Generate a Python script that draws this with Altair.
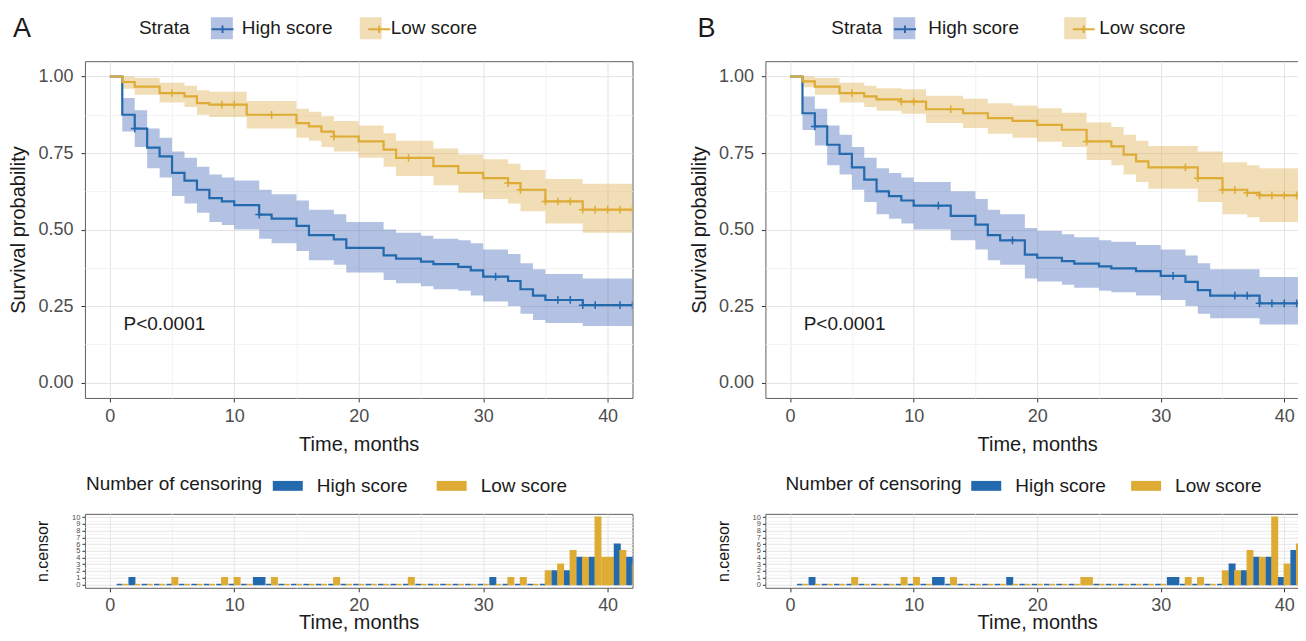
import altair as alt
import pandas as pd

FONT = "Liberation Sans"
BLUE = "#2369AD"
GOLD = "#DEAC35"
BLUE_BAND = "#4166B6"
GOLD_BAND = "#DCAC48"
TXT = "#1A1A1A"
X_MAX = 42
DODGE = 0.45
W_STRATA = 50.7      # width of "Strata" at 19px (Arial metrics)
W_HIGH = 90.8        # width of "High score" at 19px

# ---------------- Panel A : Kaplan-Meier steps ----------------
a_hi_time = [0, 1, 2, 3, 4, 5, 6, 7, 8, 9, 10, 12, 13, 15, 16, 18, 19, 22, 23, 25, 26, 28, 29, 30, 32, 33, 34, 35, 38]
a_hi_surv = [1.0, 0.875, 0.83, 0.768, 0.739, 0.685, 0.66, 0.63, 0.603, 0.592, 0.58, 0.549, 0.536, 0.512, 0.482,
             0.468, 0.44, 0.416, 0.405, 0.395, 0.387, 0.378, 0.367, 0.346, 0.332, 0.305, 0.284, 0.27, 0.253]
a_hi_lower = [1.0, 0.82, 0.77, 0.70, 0.67, 0.61, 0.585, 0.555, 0.525, 0.515, 0.50, 0.47, 0.455, 0.43, 0.40,
              0.385, 0.36, 0.335, 0.325, 0.315, 0.305, 0.30, 0.285, 0.265, 0.25, 0.225, 0.205, 0.195, 0.185]
a_hi_upper = [1.0, 0.93, 0.89, 0.83, 0.80, 0.755, 0.735, 0.705, 0.68, 0.67, 0.66, 0.63, 0.615, 0.595, 0.565,
              0.55, 0.525, 0.50, 0.49, 0.48, 0.47, 0.465, 0.455, 0.435, 0.42, 0.39, 0.37, 0.355, 0.34]

a_lo_time = [0, 1, 2, 4, 6, 7, 8, 11, 15, 16, 17, 18, 20, 22, 23, 26, 28, 30, 32, 33, 35, 38]
a_lo_surv = [1.0, 0.982, 0.967, 0.946, 0.935, 0.913, 0.908, 0.875, 0.848, 0.837, 0.82, 0.804, 0.788, 0.761,
             0.734, 0.707, 0.685, 0.668, 0.652, 0.63, 0.592, 0.565]
a_lo_lower = [1.0, 0.96, 0.94, 0.915, 0.90, 0.875, 0.868, 0.83, 0.80, 0.79, 0.77, 0.755, 0.735, 0.705,
              0.675, 0.645, 0.62, 0.60, 0.585, 0.56, 0.52, 0.49]
a_lo_upper = [1.0, 1.0, 0.995, 0.98, 0.97, 0.955, 0.95, 0.92, 0.895, 0.885, 0.87, 0.855, 0.84, 0.815,
              0.79, 0.765, 0.745, 0.73, 0.715, 0.695, 0.665, 0.65]

# ---------------- Panel B : Kaplan-Meier steps ----------------
b_hi_time = [0, 1, 2, 3, 4, 5, 6, 7, 8, 9, 10, 13, 15, 16, 17, 19, 20, 22, 23, 25, 26, 28, 30, 32, 33, 34, 38]
b_hi_surv = [1.0, 0.88, 0.837, 0.777, 0.747, 0.703, 0.663, 0.625, 0.609, 0.595, 0.578, 0.545, 0.516, 0.482,
             0.465, 0.418, 0.408, 0.397, 0.389, 0.38, 0.373, 0.364, 0.349, 0.329, 0.302, 0.284, 0.259]
b_hi_lower = [1.0, 0.825, 0.775, 0.71, 0.68, 0.63, 0.59, 0.55, 0.535, 0.52, 0.50, 0.465, 0.435, 0.40,
              0.385, 0.34, 0.33, 0.32, 0.31, 0.30, 0.295, 0.285, 0.27, 0.25, 0.225, 0.21, 0.19]
b_hi_upper = [1.0, 0.935, 0.895, 0.84, 0.81, 0.77, 0.735, 0.70, 0.685, 0.67, 0.655, 0.625, 0.60, 0.565,
              0.55, 0.505, 0.495, 0.485, 0.475, 0.465, 0.46, 0.45, 0.435, 0.415, 0.39, 0.37, 0.345]

b_lo_time = [0, 1, 2, 4, 6, 7, 9, 11, 14, 16, 18, 20, 22, 24, 26, 27, 28, 29, 33, 35, 37, 38]
b_lo_surv = [1.0, 0.984, 0.967, 0.946, 0.935, 0.925, 0.918, 0.893, 0.88, 0.864, 0.855, 0.842, 0.826, 0.788,
             0.772, 0.745, 0.723, 0.703, 0.668, 0.63, 0.62, 0.612]
b_lo_lower = [1.0, 0.965, 0.94, 0.915, 0.90, 0.888, 0.878, 0.848, 0.832, 0.813, 0.80, 0.787, 0.77, 0.727,
              0.71, 0.68, 0.655, 0.633, 0.59, 0.55, 0.54, 0.525]
b_lo_upper = [1.0, 1.0, 0.995, 0.98, 0.97, 0.962, 0.958, 0.937, 0.927, 0.913, 0.905, 0.896, 0.882, 0.85,
              0.835, 0.81, 0.79, 0.773, 0.755, 0.72, 0.71, 0.70]

# ---------------- Number of censoring (time 1..42; None = no row for that stratum) ----------------
censor_time = list(range(1, 43))
a_cens_high = [0, 1, 0, 0, 0, 0, 0, 0, 0, 0, 0, 1, 0, 0, 0, 0, 0, 0, 0, 0, 0, 0, 0, 0, 0, 0, 0, 0, 0, 0,
               1, 0, 0, 0, 0, 2, 2, 4, 4, None, 6, 4]
a_cens_low = [0, 0, 0, 0, 1, 0, 0, 0, 1, 1, 0, None, 1, 0, 0, 0, 0, 1, 0, 0, 0, 0, 0, 1, 0, 0, 0, 0, 0, 0,
              0, 1, 1, 0, 2, 3, 5, 4, 10, 4, 5, 3]
b_cens_high = [0, 1, 0, 0, 0, 0, 0, 0, 0, 0, 0, 1, 0, 0, 0, 0, 0, 1, 0, 0, 0, 0, 0, None, 0, 0, 0, 0, 0, 0,
               1, 0, 0, 0, 0, 3, 2, 4, 4, 1, 5, 3]
b_cens_low = [0, 0, 0, 0, 1, 0, 0, 0, 1, 1, 0, None, 1, 0, 0, 0, 0, 0, 0, 0, 0, 0, 0, 1, 0, 0, 0, 0, 0, 0,
              None, 1, 1, 0, 2, 2, 5, 4, 10, 3, 6, 3]

pval_label = "P<0.0001"
pval_time = 1.1
pval_surv = 0.19


def km_table(time, surv, lower, upper, group):
    return pd.DataFrame({
        "time": time + [X_MAX], "surv": surv + [surv[-1]],
        "lower": lower + [lower[-1]], "upper": upper + [upper[-1]],
        "strata": group, "band": group,
    })


def censor_marks(time, surv, counts, group):
    rows = []
    for t, n in zip(censor_time, counts):
        if n:
            idx = max(i for i, tt in enumerate(time) if tt <= t)
            rows.append({"time": t, "surv": surv[idx], "strata": group})
    return pd.DataFrame(rows)


def censor_table(high, low):
    rows = []
    for t, h, l in zip(censor_time, high, low):
        both = h is not None and l is not None
        for grp, n, side in (("High score", h, -1), ("Low score", l, 1)):
            if n is None:
                continue
            if both:
                x0, x1 = (t - DODGE, t) if side < 0 else (t, t + DODGE)
            else:
                x0, x1 = t - DODGE, t + DODGE
            rows.append({"time": t, "strata": grp, "n": n, "x0": x0, "x1": x1})
    return pd.DataFrame(rows)


def x_axis(title_y, baseline, label_pad):
    return alt.Axis(
        values=list(range(0, 41, 5)),
        labelExpr="datum.value % 10 === 0 ? datum.label : ''",
        tickOpacity={"condition": {"test": "datum.value % 10 !== 0", "value": 0}, "value": 1},
        gridColor={"condition": {"test": "datum.value % 10 !== 0", "value": "#F3F3F3"}, "value": "#E3E3E3"},
        title="Time, months", titleY=title_y, titleBaseline=baseline,
        labelPadding=label_pad, tickSize=4, labelFontSize=18, titleFontSize=20, labelOverlap=False,
    )


def y_axis_km():
    return alt.Axis(
        values=[i / 8 for i in range(9)],
        labelExpr="datum.value % 0.25 === 0 ? format(datum.value, '.2f') : ''",
        tickOpacity={"condition": {"test": "datum.value % 0.25 !== 0", "value": 0}, "value": 1},
        gridColor={"condition": {"test": "datum.value % 0.25 !== 0", "value": "#F3F3F3"}, "value": "#E3E3E3"},
        title="Survival probability", titleX=-66, titleBaseline="middle",
        labelPadding=8, tickSize=4, labelFontSize=18, titleFontSize=20, labelOverlap=False,
    )


def y_axis_cens():
    return alt.Axis(
        values=[i / 2 for i in range(21)],
        labelExpr="datum.value % 1 === 0 ? format(datum.value, 'd') : ''",
        tickOpacity={"condition": {"test": "datum.value % 1 !== 0", "value": 0}, "value": 1},
        gridColor={"condition": {"test": "datum.value % 1 !== 0", "value": "#F3F3F3"}, "value": "#E6E6E6"},
        title="n.censor", titleX=-42, titleBaseline="middle",
        labelPadding=2, tickSize=3, labelFontSize=7.5, titleFontSize=16, labelOverlap=False,
    )


def legend(title, x, y, symbol, size, title_pad, col_pad, label_off, opacity=1.0, sw=0.0, label_expr=None):
    kw = dict(
        title=title, orient="none", legendX=x, legendY=y, direction="horizontal",
        titleOrient="left", titleAnchor="middle", titleBaseline="middle", titlePadding=title_pad,
        symbolType=symbol, symbolSize=size, symbolOpacity=opacity, symbolStrokeWidth=sw,
        labelOffset=label_off, columnPadding=col_pad,
        labelFontSize=19, titleFontSize=19, titleFontWeight="normal",
        labelFont=FONT, titleFont=FONT, labelColor=TXT, titleColor=TXT, labelLimit=0, titleLimit=0,
    )
    if label_expr is not None:
        kw["labelExpr"] = label_expr
    return alt.Legend(**kw)


def panel(letter, letter_dx, width, km_tabs, mark_tabs, cens_tab, lg_km, lg_cens):
    x_scale = alt.Scale(domain=[-2, X_MAX], nice=False, zero=False)
    y_scale = alt.Scale(domain=[-0.05, 1.05], nice=False, zero=False)
    xk = alt.X("time:Q", scale=x_scale, axis=x_axis(47, "middle", 6))
    yax = y_axis_km()
    km_df = pd.concat(km_tabs, ignore_index=True)
    mk_df = pd.concat(mark_tabs, ignore_index=True)
    lx, lt, lc, lo = lg_km
    fill_lg = legend("Strata", lx, -44, "square", 484, lt, lc, lo, opacity=0.4)
    # line keys drawn on top of the filled keys (no text of their own)
    line_lg = legend(None, lx + W_STRATA + lt, -44, "M-1,0H1M0,-0.35V0.35", 484, 0,
                     lo + W_HIGH + lc, 0, sw=2, label_expr="''")

    band = alt.Chart(km_df).mark_area(interpolate="step-after", opacity=0.4, clip=True).encode(
        x=xk, y=alt.Y("lower:Q", scale=y_scale, axis=yax), y2="upper:Q",
        fill=alt.Fill("band:N", scale=alt.Scale(range=[BLUE_BAND, GOLD_BAND]), legend=fill_lg),
    )
    line = alt.Chart(km_df).mark_line(interpolate="step-after", strokeWidth=2.2, clip=True).encode(
        x=xk, y=alt.Y("surv:Q", scale=y_scale, axis=yax),
        stroke=alt.Stroke("strata:N", scale=alt.Scale(range=[BLUE, GOLD]), legend=line_lg),
    )
    pts = alt.Chart(mk_df).mark_point(shape="M-1,0H1M0,-1V1", filled=False, size=60, strokeWidth=1.5,
                                      opacity=1, clip=True).encode(
        x=xk, y=alt.Y("surv:Q", scale=y_scale, axis=yax),
        stroke=alt.Stroke("strata:N", scale=alt.Scale(range=[BLUE, GOLD]), legend=line_lg),
    )
    ptxt = alt.Chart(pd.DataFrame({"time": [pval_time], "surv": [pval_surv], "label": [pval_label]})).mark_text(
        align="left", baseline="middle", fontSize=19, font=FONT, color=TXT).encode(
        x=xk, y=alt.Y("surv:Q", scale=y_scale, axis=yax), text="label:N")

    km = alt.layer(band, line, pts, ptxt).properties(
        width=width, height=337,
        title=alt.TitleParams(letter, anchor="start", frame="group", dx=letter_dx, offset=-26, baseline="top",
                              fontSize=27, fontWeight="normal", font=FONT, color=TXT),
    ).resolve_scale(fill="independent")

    cx, ct, cc, co = lg_cens
    cens_lg = legend("Number of censoring", cx, -43, "M-1,-0.33H1V0.33H-1Z", 900, ct, cc, co)
    cens = alt.Chart(cens_tab).mark_bar(strokeWidth=1.4, clip=True).encode(
        x=alt.X("x0:Q", scale=x_scale, axis=x_axis(41, "alphabetic", 5)), x2="x1:Q",
        y=alt.Y("n:Q", scale=alt.Scale(domain=[-0.5, 10.5], nice=False, zero=False), axis=y_axis_cens()),
        y2=alt.datum(0),
        fill=alt.Fill("strata:N", scale=alt.Scale(range=[BLUE, GOLD]), legend=cens_lg),
        stroke=alt.Stroke("strata:N", scale=alt.Scale(range=[BLUE, GOLD]), legend=None),
    ).properties(width=width, height=74)
    return km, cens


km_a, cens_a = panel(
    "A", -72, 548,
    [km_table(a_hi_time, a_hi_surv, a_hi_lower, a_hi_upper, "High score"),
     km_table(a_lo_time, a_lo_surv, a_lo_lower, a_lo_upper, "Low score")],
    [censor_marks(a_hi_time, a_hi_surv, a_cens_high, "High score"),
     censor_marks(a_lo_time, a_lo_surv, a_cens_low, "Low score")],
    censor_table(a_cens_high, a_cens_low),
    (54, 21, 27, 9), (1, 10, 29, 14),
)
km_b, cens_b = panel(
    "B", -68, 544,
    [km_table(b_hi_time, b_hi_surv, b_hi_lower, b_hi_upper, "High score"),
     km_table(b_lo_time, b_lo_surv, b_lo_lower, b_lo_upper, "Low score")],
    [censor_marks(b_hi_time, b_hi_surv, b_cens_high, "High score"),
     censor_marks(b_lo_time, b_lo_surv, b_cens_low, "Low score")],
    censor_table(b_cens_high, b_cens_low),
    (66, 11, 45, 13), (20, 9, 25, 14),
)

chart = alt.concat(
    km_a, km_b, cens_a, cens_b, columns=2, spacing={"row": 116, "column": 133}, bounds="flush"
).resolve_scale(
    fill="independent", stroke="independent", x="independent", y="independent"
).resolve_legend(fill="independent", stroke="independent").properties(
    padding={"left": 0, "top": 6, "right": -12, "bottom": -2}
).configure_view(stroke="#5E5E5E", strokeWidth=1).configure_axis(
    domain=False, tickColor="#333333", labelColor="#4D4D4D", titleColor=TXT,
    labelFont=FONT, titleFont=FONT, titleFontWeight="normal", gridWidth=1,
).configure_title(font=FONT)

chart.save("out.html", embed_options={"renderer": "svg", "actions": False})
